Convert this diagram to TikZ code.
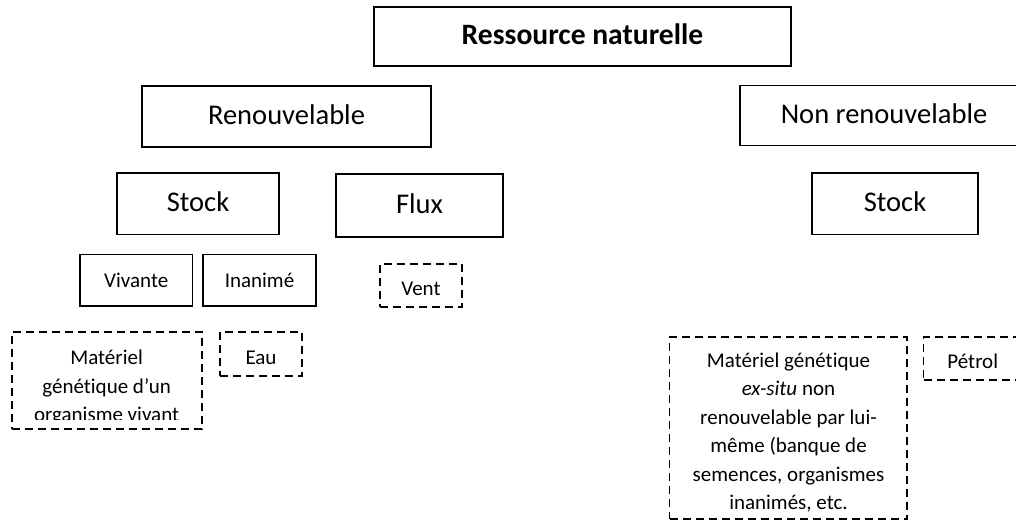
\documentclass[tikz,border=0pt]{standalone}
\usepackage{fontspec}
\setmainfont[Ligatures=NoCommon]{Carlito}
\begin{document}
\begin{tikzpicture}[x=0.75pt,y=-0.75pt,
  solidbox/.style={draw, line width=1.4pt, inner sep=0pt},
  dashbox/.style={draw, line width=1.4pt, dash pattern=on 6pt off 3.75pt, inner sep=0pt},
  big/.style={font=\fontsize{21.4}{26}\selectfont, text depth=3pt},
  bigbold/.style={font=\fontsize{22.2}{26}\selectfont\bfseries, text depth=3pt},
  small/.style={font=\fontsize{15.75}{21.3}\selectfont},
]
\clip (0,0) rectangle (1016,521);

% top level
\node[solidbox, bigbold, minimum width=417*0.75pt, minimum height=59*0.75pt] (title) at (582.5,36.5) {Ressource naturelle};

% second level
\node[solidbox, big, minimum width=289*0.75pt, minimum height=61*0.75pt] (renouv) at (286.5,116.5) {Renouvelable};
\node[solidbox, big, minimum width=288*0.75pt, minimum height=60*0.75pt] (nonrenouv) at (884,115.5) {Non renouvelable};

% third level
\node[solidbox, big, minimum width=162*0.75pt, minimum height=61.5*0.75pt] (stockL) at (198,203.75) {Stock};
\node[solidbox, big, minimum width=167*0.75pt, minimum height=63*0.75pt] (flux) at (419.5,205.5) {Flux};
\node[solidbox, big, minimum width=166*0.75pt, minimum height=61.5*0.75pt] (stockR) at (895,203.75) {Stock};

% fourth level
\node[solidbox, small, minimum width=112.5*0.75pt, minimum height=51.5*0.75pt] (vivante) at (136.25,280.25) {Vivante};
\node[solidbox, small, minimum width=113*0.75pt, minimum height=51.5*0.75pt] (inanime) at (259.5,280.25) {Inanimé};
\node[dashbox, minimum width=82*0.75pt, minimum height=43*0.75pt] (vent) at (421,285.5) {};
\node[small, anchor=base] (venttext) at (421,295.5) {Vent};

% examples (multi-line texts are anchored on the baseline of their last line)
\node[dashbox, minimum width=190*0.75pt, minimum height=97*0.75pt] (matL) at (106.6,380.5) {};
\begin{scope}
  \clip (14,334) rectangle (199,419);
  \node[small, align=center, anchor=base] (matLtext) at (106.6,421.5)
    {Matériel\\génétique d’un\\organisme vivant};
\end{scope}

\node[dashbox, minimum width=82*0.75pt, minimum height=44*0.75pt] (eau) at (261,354) {};
\node[small, anchor=base] (eautext) at (261,364) {Eau};

\node[dashbox, minimum width=237.5*0.75pt, minimum height=182*0.75pt] (matR) at (788.25,428) {};
\node[small, align=center, anchor=base] (matRtext) at (788.5,509.4)
  {Matériel génétique\\\textit{ex-situ} non\\renouvelable par lui-\\même (banque de\\semences, organismes\\inanimés, etc.};

\node[dashbox, minimum width=98.5*0.75pt, minimum height=43*0.75pt] (petrol) at (972.75,358.5) {};
\node[small, anchor=base] (petroltext) at (972.75,368.4) {Pétrol};
\end{tikzpicture}
\end{document}
